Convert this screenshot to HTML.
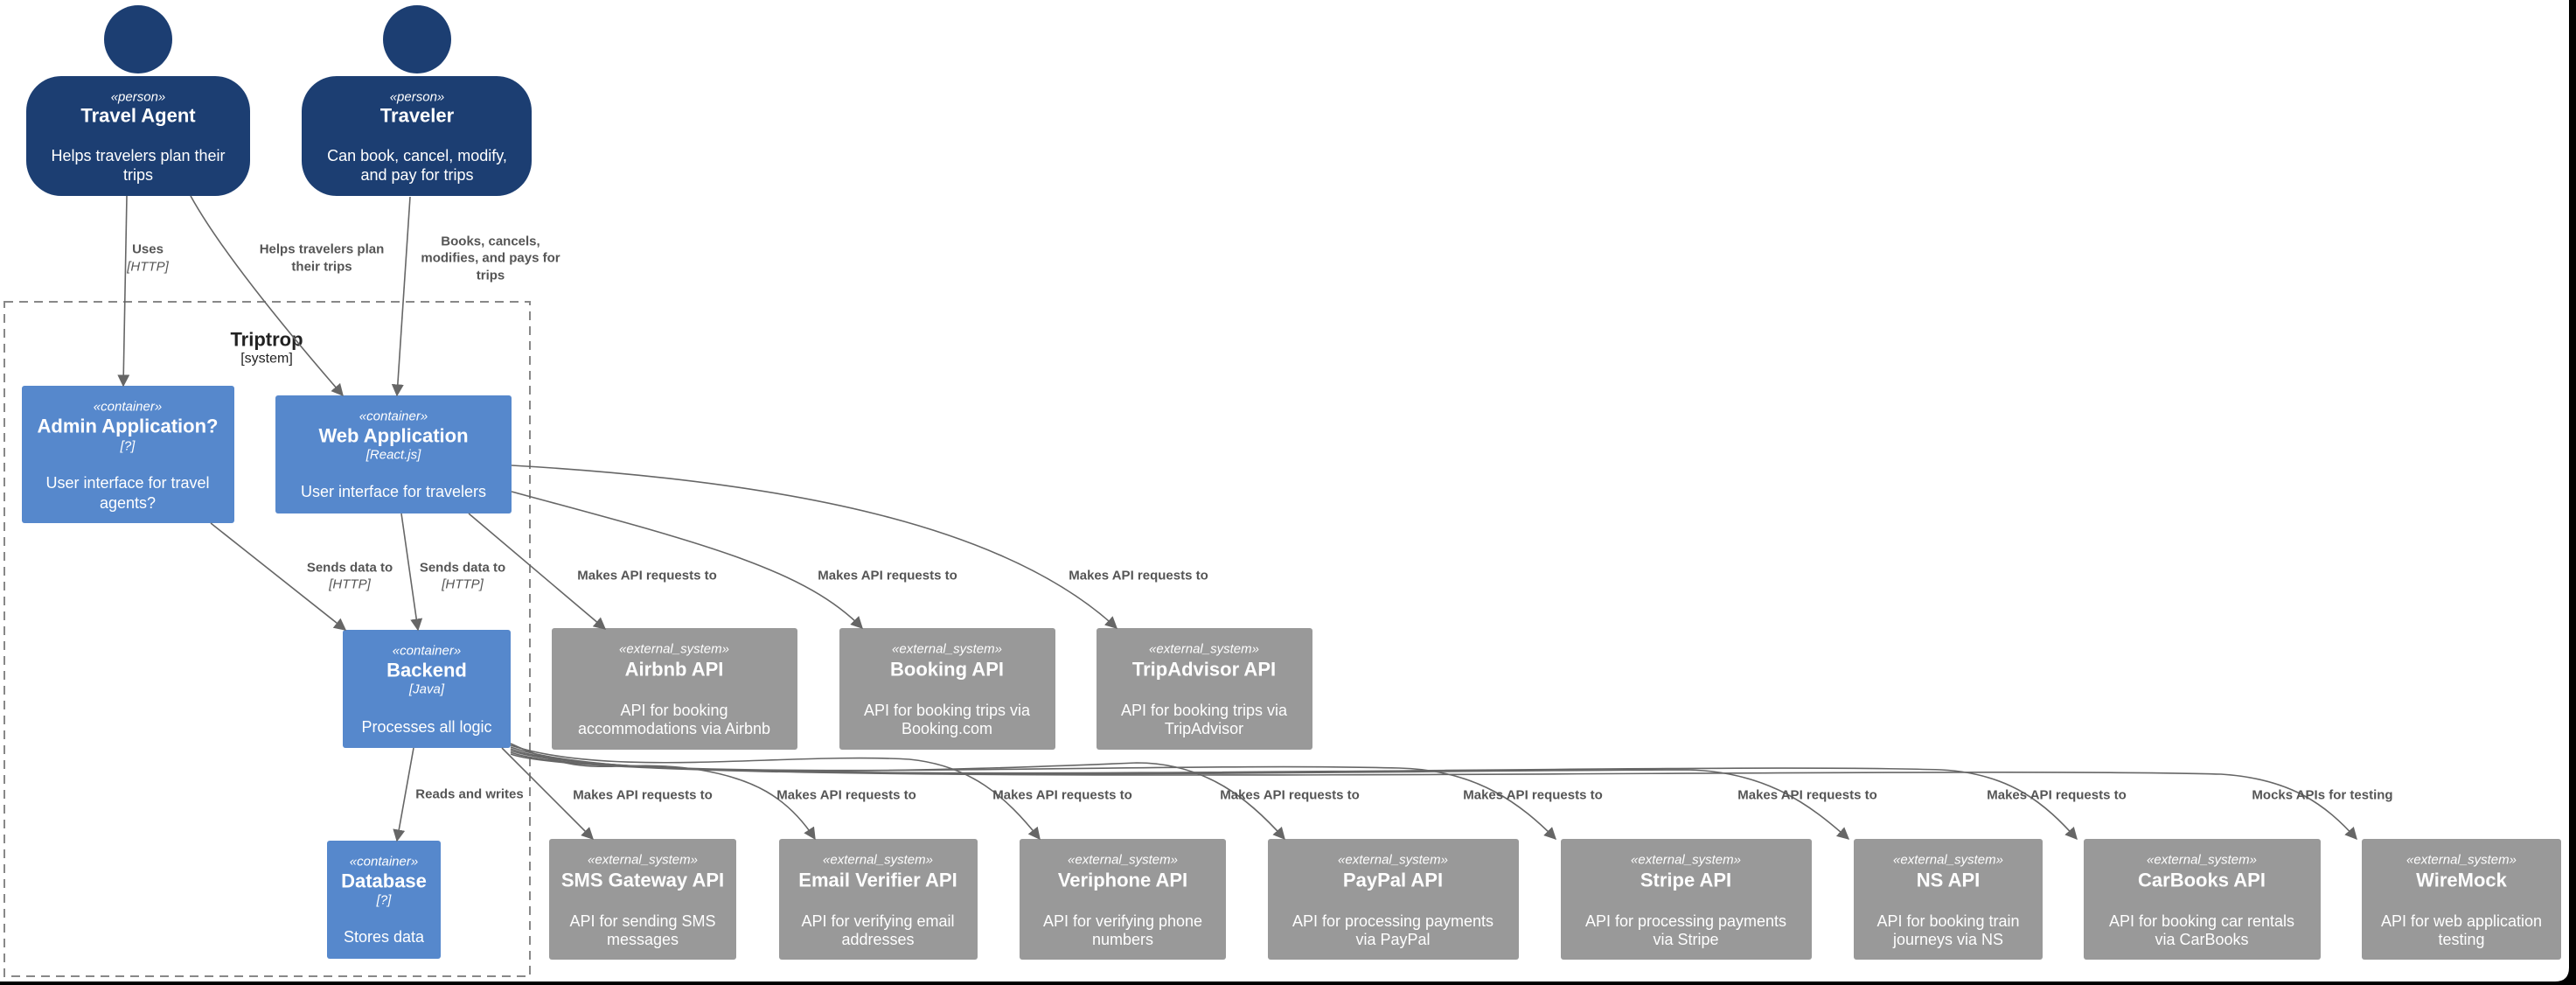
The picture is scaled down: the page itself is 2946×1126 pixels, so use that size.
<!DOCTYPE html>
<html><head><meta charset="utf-8"><style>
html,body{margin:0;padding:0;background:#000;}
svg{display:block;}
text{font-family:"Liberation Sans",sans-serif;}
</style></head><body>
<svg width="2946" height="1126" viewBox="0 0 2946 1126" xmlns="http://www.w3.org/2000/svg">
<defs>
<marker id="a" viewBox="0 0 10 10" refX="9" refY="5" markerWidth="14" markerHeight="14" markerUnits="userSpaceOnUse" orient="auto"><path d="M0,0 L10,5 L0,10 Z" fill="#666"/></marker>
</defs>
<rect x="0" y="0" width="2946" height="1126" fill="#000"/>
<path d="M0,0 H2938 V1106 Q2938,1122 2922,1122 H0 Z" fill="#fff"/>

<!-- boundary -->
<rect x="5" y="345" width="601" height="771" fill="none" stroke="#888" stroke-width="2" stroke-dasharray="10,7"/>
<text x="305" y="388" font-size="22" font-weight="bold" fill="#222" text-anchor="middle" dominant-baseline="central">Triptrop</text>
<text x="305" y="410" font-size="16" fill="#222" text-anchor="middle" dominant-baseline="central">[system]</text>

<!-- persons -->
<g fill="#1c3e72">
<circle cx="158" cy="45" r="39"/>
<rect x="30" y="87" width="256" height="137" rx="40"/>
<circle cx="477" cy="45" r="39"/>
<rect x="345" y="87" width="263" height="137" rx="40"/>
</g>
<g fill="#fff" text-anchor="middle" dominant-baseline="central">
<text x="158" y="111" font-size="15" font-style="italic">«person»</text>
<text x="158" y="132" font-size="22" font-weight="bold">Travel Agent</text>
<text x="158" y="178" font-size="18">Helps travelers plan their</text>
<text x="158" y="200" font-size="18">trips</text>
<text x="477" y="111" font-size="15" font-style="italic">«person»</text>
<text x="477" y="132" font-size="22" font-weight="bold">Traveler</text>
<text x="477" y="178" font-size="18">Can book, cancel, modify,</text>
<text x="477" y="200" font-size="18">and pay for trips</text>
</g>

<!-- containers -->
<g fill="#5688cc">
<rect x="25" y="441" width="243" height="157" rx="3"/>
<rect x="315" y="452" width="270" height="135" rx="3"/>
<rect x="392" y="720" width="192" height="135" rx="3"/>
<rect x="374" y="961" width="130" height="135" rx="3"/>
</g>
<g fill="#fff" text-anchor="middle" dominant-baseline="central">
<text x="146" y="465" font-size="15" font-style="italic">«container»</text>
<text x="146" y="487" font-size="22" font-weight="bold">Admin Application?</text>
<text x="146" y="510" font-size="15" font-style="italic">[?]</text>
<text x="146" y="552" font-size="18">User interface for travel</text>
<text x="146" y="575" font-size="18">agents?</text>
<text x="450" y="476" font-size="15" font-style="italic">«container»</text>
<text x="450" y="498" font-size="22" font-weight="bold">Web Application</text>
<text x="450" y="520" font-size="15" font-style="italic">[React.js]</text>
<text x="450" y="562" font-size="18">User interface for travelers</text>
<text x="488" y="744" font-size="15" font-style="italic">«container»</text>
<text x="488" y="766" font-size="22" font-weight="bold">Backend</text>
<text x="488" y="788" font-size="15" font-style="italic">[Java]</text>
<text x="488" y="831" font-size="18">Processes all logic</text>
<text x="439" y="985" font-size="15" font-style="italic">«container»</text>
<text x="439" y="1007" font-size="22" font-weight="bold">Database</text>
<text x="439" y="1029" font-size="15" font-style="italic">[?]</text>
<text x="439" y="1071" font-size="18">Stores data</text>
</g>

<!-- external systems -->
<g fill="#999">
<rect x="631" y="718" width="281" height="139" rx="3"/>
<rect x="960" y="718" width="247" height="139" rx="3"/>
<rect x="1254" y="718" width="247" height="139" rx="3"/>
<rect x="628" y="959" width="214" height="138" rx="3"/>
<rect x="891" y="959" width="227" height="138" rx="3"/>
<rect x="1166" y="959" width="236" height="138" rx="3"/>
<rect x="1450" y="959" width="287" height="138" rx="3"/>
<rect x="1785" y="959" width="287" height="138" rx="3"/>
<rect x="2120" y="959" width="216" height="138" rx="3"/>
<rect x="2383" y="959" width="271" height="138" rx="3"/>
<rect x="2701" y="959" width="228" height="138" rx="3"/>
</g>
<g fill="#fff" text-anchor="middle" dominant-baseline="central">
<g font-size="15" font-style="italic">
<text x="771" y="742">«external_system»</text>
<text x="1083" y="742">«external_system»</text>
<text x="1377" y="742">«external_system»</text>
<text x="735" y="983">«external_system»</text>
<text x="1004" y="983">«external_system»</text>
<text x="1284" y="983">«external_system»</text>
<text x="1593" y="983">«external_system»</text>
<text x="1928" y="983">«external_system»</text>
<text x="2228" y="983">«external_system»</text>
<text x="2518" y="983">«external_system»</text>
<text x="2815" y="983">«external_system»</text>
</g>
<g font-size="22" font-weight="bold">
<text x="771" y="765">Airbnb API</text>
<text x="1083" y="765">Booking API</text>
<text x="1377" y="765">TripAdvisor API</text>
<text x="735" y="1006">SMS Gateway API</text>
<text x="1004" y="1006">Email Verifier API</text>
<text x="1284" y="1006">Veriphone API</text>
<text x="1593" y="1006">PayPal API</text>
<text x="1928" y="1006">Stripe API</text>
<text x="2228" y="1006">NS API</text>
<text x="2518" y="1006">CarBooks API</text>
<text x="2815" y="1006">WireMock</text>
</g>
<g font-size="18">
<text x="771" y="812">API for booking</text>
<text x="771" y="833">accommodations via Airbnb</text>
<text x="1083" y="812">API for booking trips via</text>
<text x="1083" y="833">Booking.com</text>
<text x="1377" y="812">API for booking trips via</text>
<text x="1377" y="833">TripAdvisor</text>
<text x="735" y="1053">API for sending SMS</text>
<text x="735" y="1074">messages</text>
<text x="1004" y="1053">API for verifying email</text>
<text x="1004" y="1074">addresses</text>
<text x="1284" y="1053">API for verifying phone</text>
<text x="1284" y="1074">numbers</text>
<text x="1593" y="1053">API for processing payments</text>
<text x="1593" y="1074">via PayPal</text>
<text x="1928" y="1053">API for processing payments</text>
<text x="1928" y="1074">via Stripe</text>
<text x="2228" y="1053">API for booking train</text>
<text x="2228" y="1074">journeys via NS</text>
<text x="2518" y="1053">API for booking car rentals</text>
<text x="2518" y="1074">via CarBooks</text>
<text x="2815" y="1053">API for web application</text>
<text x="2815" y="1074">testing</text>
</g>
</g>

<!-- connectors -->
<g fill="none" stroke="#666" stroke-width="1.6" marker-end="url(#a)">
<path d="M145,224 L141,441"/>
<path d="M218,224 Q260,300 392,452"/>
<path d="M469,225 L454,452"/>
<path d="M241,598 L395,720"/>
<path d="M459,587 L478,720"/>
<path d="M536,587 L692,719"/>
<path d="M585,562 C800,620 920,650 986,718"/>
<path d="M585,532 C900,550 1150,600 1277,718"/>
<path d="M473,855 L454,961"/>
<path d="M574,855 L678,959"/>
<path d="M584,850 C680,895 700,865 800,880 C860,890 900,910 932,959"/>
<path d="M584,852 C700,890 900,860 1040,868 C1110,875 1150,910 1189,959"/>
<path d="M584,854 C700,895 1100,880 1300,872 C1380,872 1430,915 1469,959"/>
<path d="M584,856 C700,900 1300,870 1600,878 C1690,880 1740,920 1779,959"/>
<path d="M584,858 C700,900 1600,880 1930,880 C2020,882 2070,920 2114,959"/>
<path d="M584,860 C700,905 1900,870 2220,880 C2300,884 2340,920 2375,959"/>
<path d="M584,862 C700,905 2200,875 2540,885 C2620,890 2660,920 2695,959"/>
</g>

<!-- connector labels -->
<g fill="#555" text-anchor="middle" dominant-baseline="central" font-size="15">
<text x="169" y="285" font-weight="bold">Uses</text>
<text x="169" y="305" font-style="italic">[HTTP]</text>
<text x="368" y="285" font-weight="bold">Helps travelers plan</text>
<text x="368" y="305" font-weight="bold">their trips</text>
<text x="561" y="276" font-weight="bold">Books, cancels,</text>
<text x="561" y="295" font-weight="bold">modifies, and pays for</text>
<text x="561" y="315" font-weight="bold">trips</text>
<text x="400" y="649" font-weight="bold">Sends data to</text>
<text x="400" y="668" font-style="italic">[HTTP]</text>
<text x="529" y="649" font-weight="bold">Sends data to</text>
<text x="529" y="668" font-style="italic">[HTTP]</text>
<text x="740" y="658" font-weight="bold">Makes API requests to</text>
<text x="1015" y="658" font-weight="bold">Makes API requests to</text>
<text x="1302" y="658" font-weight="bold">Makes API requests to</text>
<text x="537" y="908" font-weight="bold">Reads and writes</text>
<text x="735" y="909" font-weight="bold">Makes API requests to</text>
<text x="968" y="909" font-weight="bold">Makes API requests to</text>
<text x="1215" y="909" font-weight="bold">Makes API requests to</text>
<text x="1475" y="909" font-weight="bold">Makes API requests to</text>
<text x="1753" y="909" font-weight="bold">Makes API requests to</text>
<text x="2067" y="909" font-weight="bold">Makes API requests to</text>
<text x="2352" y="909" font-weight="bold">Makes API requests to</text>
<text x="2656" y="909" font-weight="bold">Mocks APIs for testing</text>
</g>
</svg>
</body></html>
